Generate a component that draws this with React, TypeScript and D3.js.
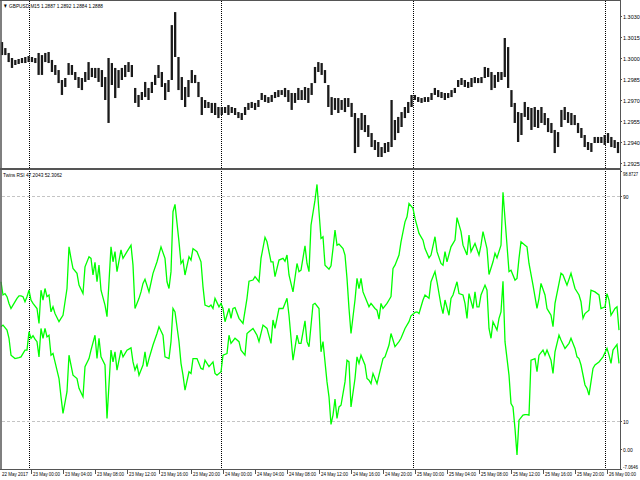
import React from 'react';
import * as d3 from 'd3';

// GBPUSD M15 bars (one entry per ~1.67 bars)
const priceHigh = [
  1.30114, 1.30071, 1.30036, 1.30000, 1.29986, 1.29993, 1.30000, 1.30007, 1.30014, 1.30007,
  1.30000, 1.30036, 1.30021, 1.30036, 1.30043, 1.29986, 1.29950, 1.29914, 1.29843, 1.29857,
  1.29964, 1.29950, 1.29900, 1.29864, 1.29857, 1.29900, 1.29971, 1.29929, 1.29929, 1.29929,
  1.29914, 1.29864, 1.30000, 1.29964, 1.29929, 1.29914, 1.29929, 1.29950, 1.29971, 1.29950,
  1.29786, 1.29736, 1.29757, 1.29829, 1.29786, 1.29829, 1.29879, 1.29950, 1.29900, 1.29821,
  1.29843, 1.30235, 1.30328, 1.30007, 1.29864, 1.29793, 1.29843, 1.29914, 1.29879, 1.29829,
  1.29721, 1.29700, 1.29686, 1.29679, 1.29679, 1.29650, 1.29650, 1.29650, 1.29664, 1.29650,
  1.29643, 1.29614, 1.29607, 1.29650, 1.29679, 1.29686, 1.29679, 1.29700, 1.29750, 1.29736,
  1.29721, 1.29736, 1.29757, 1.29771, 1.29771, 1.29786, 1.29771, 1.29750, 1.29750, 1.29786,
  1.29771, 1.29793, 1.29786, 1.29821, 1.29936, 1.29971, 1.29964, 1.29914, 1.29807, 1.29721,
  1.29714, 1.29714, 1.29700, 1.29714, 1.29714, 1.29679, 1.29607, 1.29571, 1.29607, 1.29593,
  1.29521, 1.29464, 1.29414, 1.29400, 1.29364, 1.29393, 1.29400, 1.29700, 1.29557, 1.29579,
  1.29614, 1.29650, 1.29686, 1.29736, 1.29736, 1.29721, 1.29714, 1.29721, 1.29721, 1.29750,
  1.29786, 1.29771, 1.29757, 1.29750, 1.29750, 1.29771, 1.29786, 1.29843, 1.29857, 1.29843,
  1.29829, 1.29857, 1.29864, 1.29857, 1.29864, 1.29936, 1.29929, 1.29900, 1.29879, 1.29900,
  1.29900, 1.30143, 1.30078, 1.29771, 1.29679, 1.29614, 1.29607, 1.29686, 1.29650, 1.29643,
  1.29650, 1.29629, 1.29650, 1.29607, 1.29571, 1.29536, 1.29486, 1.29471, 1.29629, 1.29650,
  1.29614, 1.29607, 1.29593, 1.29536, 1.29500, 1.29450, 1.29400, 1.29393, 1.29436, 1.29436,
  1.29436, 1.29450, 1.29464, 1.29436, 1.29414, 1.29400,
];
const priceLow = [
  1.30021, 1.30021, 1.29971, 1.29929, 1.29950, 1.29957, 1.29964, 1.29964, 1.29971, 1.29971,
  1.29964, 1.29879, 1.29879, 1.29971, 1.29964, 1.29900, 1.29879, 1.29821, 1.29736, 1.29793,
  1.29879, 1.29879, 1.29843, 1.29786, 1.29771, 1.29829, 1.29843, 1.29864, 1.29857, 1.29829,
  1.29793, 1.29700, 1.29536, 1.29807, 1.29714, 1.29786, 1.29843, 1.29864, 1.29900, 1.29864,
  1.29679, 1.29650, 1.29700, 1.29721, 1.29700, 1.29750, 1.29807, 1.29857, 1.29793, 1.29700,
  1.29757, 1.29843, 1.30007, 1.29771, 1.29700, 1.29650, 1.29721, 1.29821, 1.29821, 1.29721,
  1.29593, 1.29643, 1.29643, 1.29607, 1.29593, 1.29571, 1.29593, 1.29607, 1.29593, 1.29607,
  1.29593, 1.29571, 1.29557, 1.29593, 1.29629, 1.29643, 1.29629, 1.29650, 1.29700, 1.29686,
  1.29679, 1.29686, 1.29714, 1.29721, 1.29736, 1.29721, 1.29686, 1.29629, 1.29679, 1.29700,
  1.29700, 1.29700, 1.29679, 1.29736, 1.29821, 1.29900, 1.29879, 1.29821, 1.29650, 1.29593,
  1.29629, 1.29607, 1.29629, 1.29614, 1.29650, 1.29579, 1.29321, 1.29364, 1.29486, 1.29471,
  1.29436, 1.29364, 1.29343, 1.29293, 1.29293, 1.29321, 1.29329, 1.29364, 1.29414, 1.29464,
  1.29507, 1.29571, 1.29607, 1.29650, 1.29700, 1.29686, 1.29679, 1.29686, 1.29686, 1.29700,
  1.29736, 1.29721, 1.29714, 1.29700, 1.29714, 1.29721, 1.29750, 1.29793, 1.29807, 1.29793,
  1.29786, 1.29793, 1.29821, 1.29821, 1.29821, 1.29857, 1.29864, 1.29771, 1.29786, 1.29829,
  1.29843, 1.29864, 1.29786, 1.29650, 1.29536, 1.29400, 1.29450, 1.29579, 1.29557, 1.29486,
  1.29507, 1.29500, 1.29536, 1.29521, 1.29471, 1.29464, 1.29321, 1.29364, 1.29507, 1.29557,
  1.29536, 1.29521, 1.29521, 1.29464, 1.29429, 1.29364, 1.29343, 1.29329, 1.29393, 1.29393,
  1.29393, 1.29379, 1.29393, 1.29364, 1.29357, 1.29321,
];
const priceTicks = [1.303, 1.3015, 1.3, 1.2985, 1.297, 1.2955, 1.294, 1.2925];

// Twins RSI, [bar number, value]
const rsiUpper: [number, number][] = [
  [0,59.5],[1,54.8],[2,55.3],[3,54.2],[4,51.8],[5,50.0],[6,51.2],[8,53.6],[9,54.5],[10,54.5],[11,54.2],[12,52.4],[13,54.2],[14,56.5],[15,53.0],[16,51.8],[18,50.0],[19,44.7],[20,56.5],[21,53.0],[22,57.1],[23,54.2],[24,54.8],[25,48.8],[26,50.6],[27,48.2],[29,45.3],[30,46.5],[31,47.6],[33,57.1],[34,71.9],[35,67.8],[36,64.2],[38,62.5],[39,58.3],[41,55.3],[42,64.8],[44,68.4],[45,67.8],[46,61.9],[47,66.4],[48,59.5],[49,65.4],[50,56.5],[52,51.2],[53,47.1],[55,71.9],[56,66.6],[57,70.2],[58,63.1],[60,70.8],[61,67.8],[63,70.2],[65,72.5],[66,65.4],[67,50.0],[69,53.6],[70,55.9],[71,58.9],[72,60.4],[74,55.9],[76,62.5],[78,66.6],[80,71.9],[82,67.8],[83,59.5],[84,57.1],[85,63.1],[86,84.4],[87,87.0],[89,73.7],[90,66.0],[91,67.2],[92,61.9],[94,68.4],[95,67.2],[96,71.3],[98,70.2],[100,66.6],[101,57.7],[102,51.2],[104,50.6],[105,51.2],[106,50.0],[107,53.6],[109,50.6],[110,51.8],[111,50.0],[112,45.3],[114,50.0],[115,46.5],[116,50.0],[117,50.3],[119,46.5],[121,44.7],[123,53.6],[124,59.7],[126,60.1],[127,61.3],[129,59.5],[130,67.8],[132,75.3],[133,73.7],[135,66.6],[136,66.6],[137,61.3],[139,67.2],[141,67.8],[142,66.8],[143,69.0],[144,61.9],[146,55.9],[148,66.0],[149,63.1],[150,63.6],[152,72.3],[153,66.0],[154,63.1],[155,79.6],[157,88.5],[158,94.1],[159,84.4],[160,74.9],[161,75.5],[162,65.4],[164,64.0],[165,65.2],[166,71.3],[167,77.9],[168,72.5],[169,72.9],[171,71.3],[172,69.0],[173,60.7],[174,50.0],[175,41.1],[177,53.0],[178,60.7],[179,57.1],[180,60.7],[181,55.9],[183,52.4],[184,50.6],[185,51.8],[187,50.0],[188,49.4],[189,46.2],[190,51.8],[191,50.0],[193,51.8],[194,53.0],[195,54.2],[196,64.2],[197,65.4],[199,69.0],[200,73.7],[202,80.8],[203,82.6],[204,87.3],[206,85.6],[207,82.0],[209,76.7],[211,74.3],[212,71.3],[214,68.0],[215,69.0],[217,75.5],[218,70.2],[220,66.0],[221,65.4],[222,70.2],[223,66.6],[225,71.9],[227,74.3],[228,82.3],[230,77.3],[231,72.5],[233,69.0],[234,76.1],[235,70.2],[237,73.1],[239,69.0],[240,72.5],[241,77.3],[243,71.3],[244,62.1],[246,66.6],[247,69.6],[248,68.0],[250,72.5],[251,91.3],[253,72.5],[254,63.1],[255,63.6],[257,60.1],[258,60.7],[259,67.8],[260,73.7],[262,72.5],[263,71.9],[264,66.0],[266,58.3],[268,50.0],[269,53.6],[270,58.9],[272,54.8],[273,50.0],[274,48.8],[275,47.6],[276,43.5],[277,51.8],[279,58.9],[280,62.5],[281,61.9],[283,58.3],[285,62.5],[287,57.1],[289,54.8],[290,52.4],[291,46.5],[292,48.2],[294,49.4],[295,56.5],[297,55.9],[299,54.8],[300,50.0],[302,50.6],[303,55.3],[304,53.0],[305,47.6],[307,50.0],[308,50.6],[309,42.3],
];
const rsiLower: [number, number][] = [
  [0,43.5],[1,44.1],[3,42.3],[4,39.4],[5,33.4],[7,32.2],[9,32.5],[10,32.8],[12,35.2],[13,35.2],[14,41.7],[15,39.4],[16,40.3],[17,39.1],[18,38.2],[19,32.8],[20,42.9],[21,39.4],[22,42.9],[23,39.9],[24,40.5],[25,33.4],[26,34.0],[27,31.0],[29,25.1],[30,18.6],[31,12.7],[33,20.4],[34,33.4],[35,29.9],[36,26.3],[38,25.1],[39,21.6],[41,18.6],[42,29.3],[44,32.2],[45,35.2],[47,40.5],[48,32.2],[49,39.4],[50,32.8],[52,29.9],[53,10.9],[55,35.2],[56,31.0],[57,34.6],[58,28.1],[60,35.2],[61,32.8],[63,35.2],[65,36.0],[66,31.0],[67,28.1],[68,29.9],[69,26.3],[71,29.9],[72,34.6],[73,29.3],[74,32.2],[76,37.0],[78,41.1],[79,43.5],[81,40.5],[82,32.8],[84,32.2],[85,38.2],[86,50.0],[87,48.8],[89,38.2],[90,30.5],[91,26.3],[92,21.0],[94,27.5],[95,26.9],[96,32.2],[98,32.2],[100,28.7],[101,28.4],[102,31.6],[104,29.3],[106,31.0],[107,26.9],[108,26.3],[110,27.5],[111,33.4],[113,34.0],[114,40.5],[115,37.6],[117,39.4],[119,38.2],[120,35.2],[122,33.4],[123,41.1],[124,41.7],[126,42.9],[128,40.5],[129,38.2],[131,44.1],[133,42.9],[135,37.6],[136,45.9],[137,42.9],[139,50.0],[141,50.0],[142,51.8],[143,53.6],[144,47.6],[146,31.6],[148,40.5],[149,37.6],[150,37.6],[152,45.6],[153,38.2],[154,36.4],[156,51.4],[157,51.8],[159,50.0],[160,34.6],[161,38.2],[162,31.0],[163,23.9],[164,18.6],[165,8.8],[166,12.1],[167,17.8],[168,10.9],[169,15.0],[170,15.6],[172,23.9],[173,31.6],[174,31.0],[175,15.0],[177,25.1],[178,32.8],[179,30.5],[180,33.4],[182,29.9],[183,25.1],[184,24.5],[185,23.3],[186,26.9],[188,23.3],[189,26.3],[191,32.2],[192,32.8],[194,37.0],[195,41.1],[196,38.8],[197,36.4],[199,38.2],[200,39.4],[202,42.9],[204,45.3],[205,47.4],[207,48.6],[208,48.8],[209,48.2],[211,53.0],[212,54.8],[214,53.6],[215,59.5],[217,63.1],[218,59.5],[220,51.2],[221,48.2],[222,53.0],[224,47.6],[225,53.6],[226,54.8],[228,59.5],[229,55.3],[231,54.8],[232,51.8],[233,46.5],[234,55.3],[236,50.0],[237,55.9],[238,50.6],[239,50.6],[240,54.8],[242,58.3],[243,56.5],[244,42.9],[245,39.4],[246,45.3],[248,42.3],[249,46.5],[250,48.8],[251,59.7],[252,38.2],[254,26.3],[255,16.2],[256,15.0],[257,7.3],[258,-2.1],[259,10.3],[261,12.1],[262,12.3],[263,12.3],[264,12.1],[265,31.6],[267,32.2],[268,27.5],[269,33.4],[271,35.2],[272,33.4],[273,35.2],[275,31.6],[276,26.9],[277,34.6],[279,40.5],[280,38.8],[282,35.8],[284,37.6],[285,39.4],[287,35.8],[288,32.8],[289,32.2],[290,29.9],[292,22.8],[293,21.6],[294,19.2],[296,28.7],[297,29.9],[299,31.0],[301,32.8],[303,35.8],[304,33.4],[305,30.5],[306,35.2],[308,37.2],[309,30.5],
];
const rsiTicks = [98.8727, 90, 10, 0, -7.0646];
const rsiTickLabels = ['98.8727', '90', '10', '0.00', '-7.0646'];
const rsiLevels = [90, 10];

const firstBar = new Date(2017, 4, 22, 20, 30);
const barCount = 310;
const chartTitle = '\u25BC GBPUSD,M15  1.2887 1.2892 1.2884 1.2888';
const rsiTitle = 'Twins RSI 47.2043 52.3062';

const font = "'Liberation Sans', Arial, sans-serif";
const frame = '#555';

export default function App() {
  const lastBar = new Date(+firstBar + (barCount - 1) * 15 * 60000);
  const xTime = d3.scaleTime().domain([firstBar, lastBar]).range([1, 619]);
  const xBar = d3.scaleLinear().domain([0, barCount - 1]).range([1, 619]);
  const xPrice = d3.scaleLinear().domain([0, priceHigh.length - 1]).range([2, 618]);
  const yPrice = d3.scaleLinear().domain([1.2925, 1.303]).range([163, 16]);
  const yRsi = d3.scaleLinear().domain([-7.0646, 98.8727]).range([469, 171]);

  const line = d3.line<[number, number]>()
    .x(d => xBar(d[0]))
    .y(d => yRsi(d[1]));

  const days = d3.timeDay.range(d3.timeDay.ceil(firstBar), lastBar);
  const hours = d3.timeHour.every(4)!.range(firstBar, lastBar);
  const fmt = d3.timeFormat('%d %b %H:%M');

  return (
    <svg width={640} height={480} style={{ position: 'absolute', left: 0, top: 0, background: '#fff' }}
      fontFamily={font}>
      {/* day separators */}
      {days.map((d, i) => (
        <line key={'d' + i} x1={Math.round(xTime(d)) + 0.5} x2={Math.round(xTime(d)) + 0.5} y1={1} y2={469}
          stroke="#000" strokeDasharray="1,1" />
      ))}

      {/* RSI levels */}
      {rsiLevels.map(v => (
        <line key={'lv' + v} x1={2} x2={620} y1={Math.round(yRsi(v)) + 0.5} y2={Math.round(yRsi(v)) + 0.5}
          stroke="#c4c4c4" strokeDasharray="3,2" />
      ))}

      {/* price bars */}
      {priceHigh.map((h, i) => (
        <line key={'b' + i} x1={xPrice(i)} x2={xPrice(i)} y1={yPrice(h)} y2={yPrice(priceLow[i])}
          stroke="#1a1a1a" strokeWidth={2.3} />
      ))}

      {/* RSI lines */}
      <path d={line(rsiUpper) ?? ''} fill="none" stroke="#00ff00" strokeWidth={1.3} />
      <path d={line(rsiLower) ?? ''} fill="none" stroke="#00ff00" strokeWidth={1.3} />

      {/* frame */}
      <line x1={0} x2={620} y1={0.5} y2={0.5} stroke={frame} />
      <line x1={1} x2={1} y1={0} y2={470} stroke={frame} strokeWidth={1.5} />
      <line x1={620.5} x2={620.5} y1={0} y2={470} stroke={frame} />
      <line x1={0} x2={621} y1={469.5} y2={469.5} stroke={frame} />
      <line x1={0} x2={621} y1={169} y2={169} stroke={frame} strokeWidth={2.2} />

      {/* price axis */}
      {priceTicks.map(p => (
        <g key={'p' + p} transform={`translate(620,${Math.round(yPrice(p)) + 0.5})`}>
          <line x1={0} x2={2} stroke={frame} />
          <text x={3} y={2} fontSize={5.5} fill="#000">{p.toFixed(4)}</text>
        </g>
      ))}

      {/* RSI axis */}
      {rsiTicks.map((v, i) => (
        <g key={'r' + i} transform={`translate(620,${Math.round(yRsi(v)) + 0.5})`}>
          <line x1={0} x2={2} stroke={frame} />
          <text x={3} y={i === 0 ? 4 : i === 4 ? -1 : 2} fontSize={5} fill="#000"
            textLength={rsiTickLabels[i].length > 4 ? 15 : undefined} lengthAdjust="spacingAndGlyphs">
            {rsiTickLabels[i]}
          </text>
        </g>
      ))}

      {/* time axis */}
      <text x={2} y={476} fontSize={5} fill="#000" textLength={26} lengthAdjust="spacingAndGlyphs">
        {d3.timeFormat('%d %b %Y')(firstBar)}
      </text>
      {hours.map((t, i) => (
        <g key={'t' + i} transform={`translate(${Math.round(xTime(t)) + 2.5},0)`}>
          <line y1={470} y2={474} stroke={frame} />
          <text x={1.5} y={476} fontSize={5} fill="#000" textLength={27} lengthAdjust="spacingAndGlyphs">
            {fmt(t)}
          </text>
        </g>
      ))}

      {/* titles */}
      <text x={3} y={8} fontSize={6} fill="#000" textLength={100} lengthAdjust="spacingAndGlyphs">{chartTitle}</text>
      <text x={3} y={177} fontSize={6} fill="#000" textLength={59} lengthAdjust="spacingAndGlyphs">{rsiTitle}</text>
    </svg>
  );
}
